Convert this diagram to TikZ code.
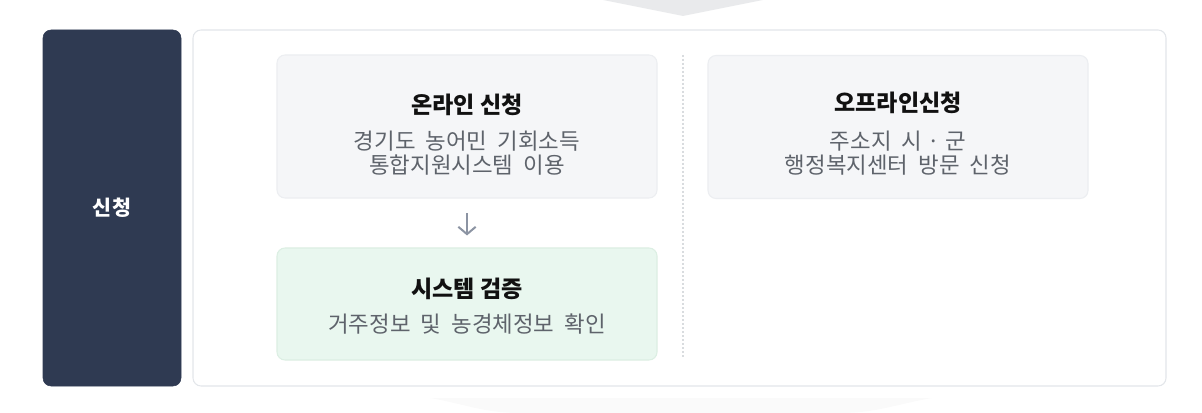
\documentclass[tikz,border=0pt]{standalone}
\usepackage{fontspec}
\newfontfamily\krfont{Noto Sans CJK KR}
\newcommand\descfont{\krfont\fontsize{16.8}{18}\selectfont\spaceskip=0.45em\relax}
\usetikzlibrary{arrows.meta,positioning}
\definecolor{navy}{HTML}{2F3A52}
\definecolor{frameline}{HTML}{E3E6EA}
\definecolor{greyfill}{HTML}{F5F6F8}
\definecolor{greyline}{HTML}{ECEEF1}
\definecolor{greenfill}{HTML}{E9F7EF}
\definecolor{greenline}{HTML}{DCEFE3}
\definecolor{titletxt}{HTML}{111111}
\definecolor{desctxt}{HTML}{5E636B}
\definecolor{arrowgrey}{HTML}{8C94A3}
\begin{document}
\begin{tikzpicture}[x=0.75pt,y=-0.75pt,
    every node/.style={font=\krfont, inner sep=0pt},
    sidebox/.style={rounded corners=6pt, fill=navy, draw=navy,
      minimum width=103.5pt, minimum height=267pt},
    mainbox/.style={rounded corners=6pt, fill=white, draw=frameline,
      line width=0.8pt, minimum width=729.75pt, minimum height=267pt},
    stepbox/.style={rounded corners=6pt, fill=#1fill, draw=#1line,
      line width=0.8pt, minimum width=285pt},
    ttl/.style={font=\krfont\bfseries\fontsize{17.3}{18}\selectfont, text=titletxt},
    desc/.style={font=\descfont, text=desctxt, align=center},
    flow/.style={draw=arrowgrey, line width=1.5pt,
      -{Straight Barb[length=5.5pt,width=13pt]}}]
  \useasboundingbox (0,0) rectangle (1202,413);
  % previous step chevron and shadow below
  \fill[greyfill!90!gray] (603,0) -- (763,0) -- (683,16) -- cycle;
  \fill[black!2] (430,398) to[out=-10,in=180] (520,413) -- (840,413)
    to[out=0,in=190] (932,398) -- cycle;
  % left label
  \node[sidebox] (side) at (112,208) {};
  \node[font=\krfont\bfseries\fontsize{15.5}{18}\selectfont, text=white] (sideT) at (side) {신청};
  % frame
  \node[mainbox] (frame) at (679.5,208) {};
  \draw[frameline!90!gray, line width=1pt, dash pattern=on 1.5pt off 1.5pt]
    (683,55) -- (683,358);
  % online
  \node[stepbox=grey, minimum height=107.25pt] (online) at (467,126.5) {};
  \node[ttl] (onlineT) at (467,104.5) {온라인 신청};
  \node[desc] (onlineD) at (467,153) {경기도 농어민 기회소득\\통합지원시스템 이용};
  % system check
  \node[stepbox=green, minimum height=84pt] (sys) at (467,304) {};
  \node[ttl] (sysT) at (467,289) {시스템 검증};
  \node[desc] (sysD) at (467,324) {거주정보 및 농경체정보 확인};
  % offline
  \node[stepbox=grey, minimum height=107.25pt] (offline) at (898,127) {};
  \node[ttl] (offlineT) at (898,103) {오프라인신청};
  \node[desc] (offlineD) at (898,153.5) {주소지 시\kern4pt·\kern4pt군\\행정복지센터 방문 신청};
  \draw[flow, shorten <=11pt, shorten >=9pt] (online) -- (sys);
\end{tikzpicture}
\end{document}
